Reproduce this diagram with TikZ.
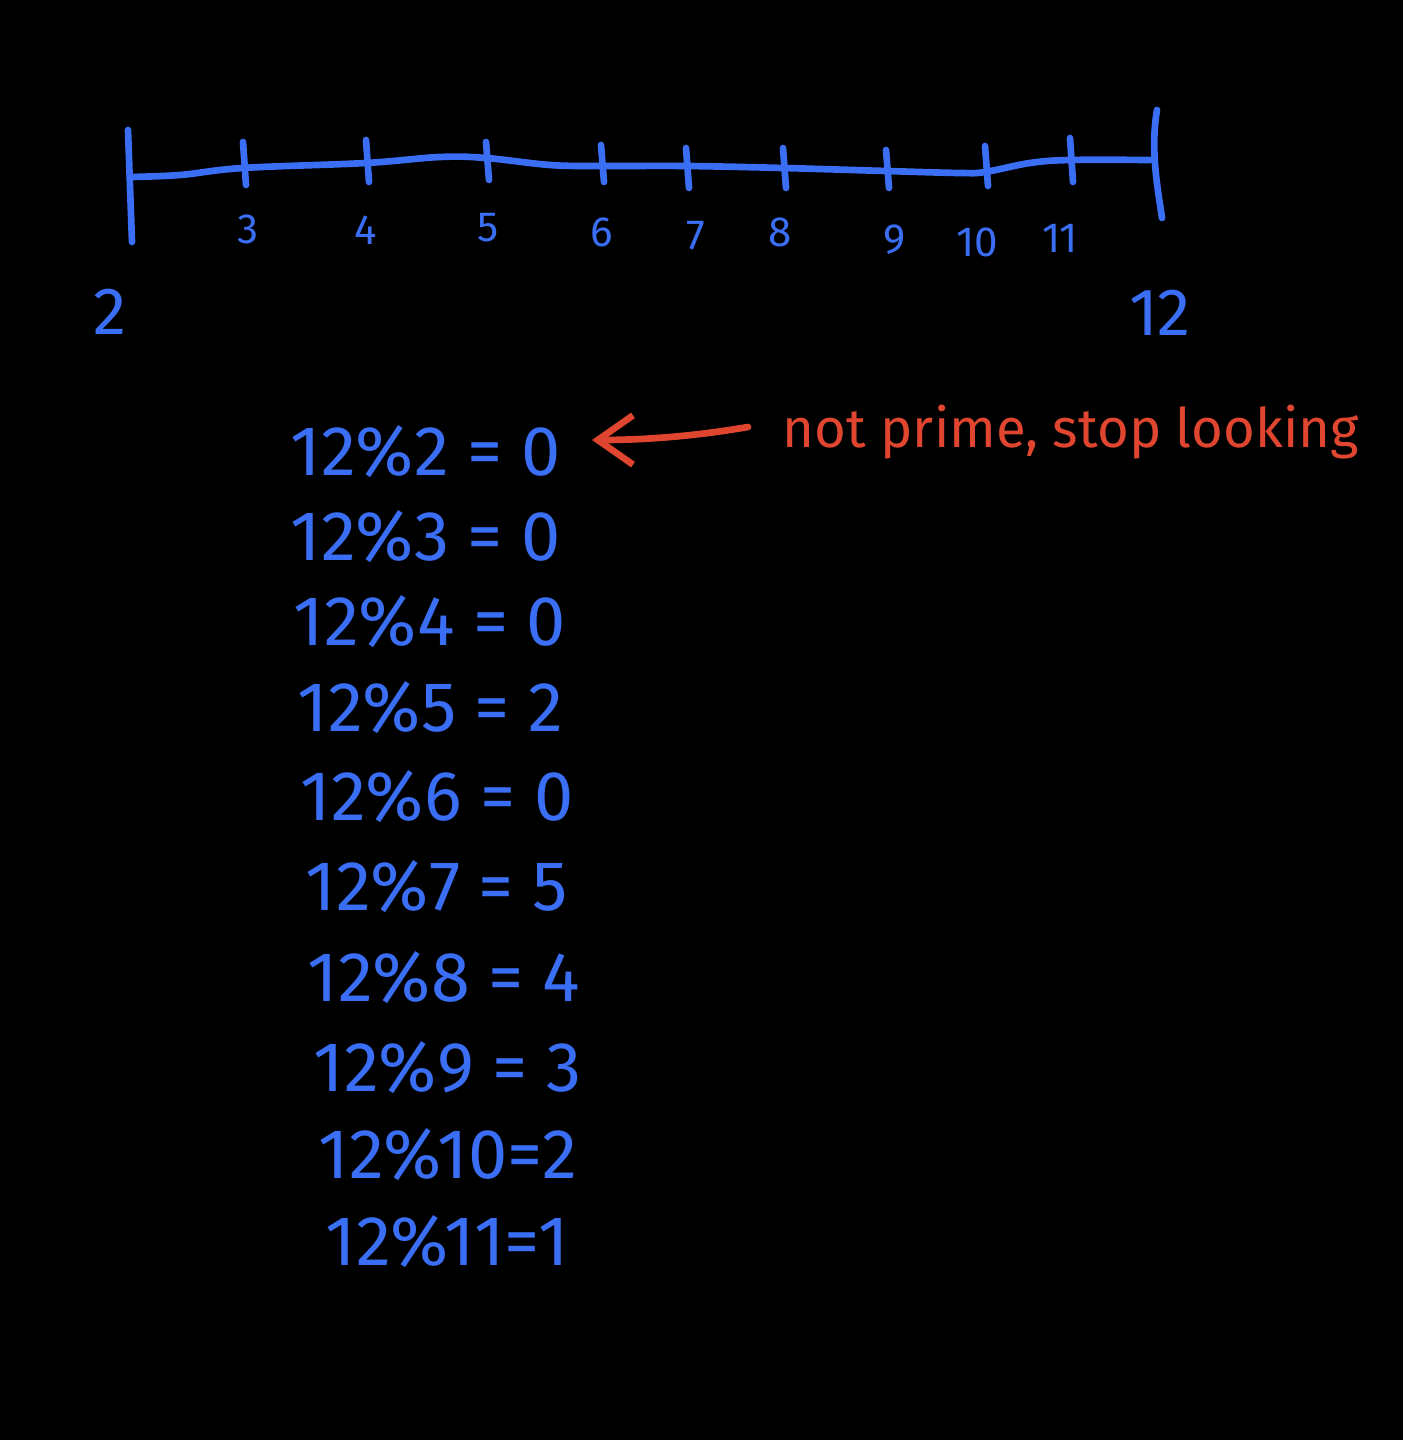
\documentclass[tikz,border=0pt]{standalone}
\usepackage{fontspec}
\setmainfont{Fira Sans}
\usetikzlibrary{arrows.meta}
\definecolor{penblue}{HTML}{3A6EF5}
\definecolor{penred}{HTML}{E0462F}
\begin{document}
\begin{tikzpicture}[x=0.01cm,y=-0.01cm,
  ink/.style={draw=penblue,line width=1.9pt,line cap=round,line join=round},
  redink/.style={draw=penred,line width=1.9pt,line cap=round,line join=round},
  ticklbl/.style={text=penblue,font=\fontsize{12}{14}\selectfont,inner sep=0pt},
  endlbl/.style={text=penblue,font=\fontsize{19}{22}\selectfont,inner sep=0pt},
  eqn/.style={text=penblue,font=\fontsize{20}{24}\selectfont,inner sep=0pt,anchor=west},
  note/.style={text=penred,font=\fontsize{15.5}{19}\selectfont,inner sep=0pt,anchor=west}]
\fill[black] (0,0) rectangle (1403,1440);
\useasboundingbox (0,0) rectangle (1403,1440);
% number line
\draw[ink] plot[smooth,tension=0.6] coordinates {(130,177) (180,175) (243,168) (366,163) (440,157) (486,158) (550,165) (601,166) (686,166) (783,168) (886,171) (960,173) (985,172) (1030,163) (1070,160) (1150,160)};
\coordinate (L1) at (128,130); \coordinate (L2) at (132,242);
\draw[ink] (L1) -- (L2);
\coordinate (R1) at (1157,110); \coordinate (R2) at (1162,218);
\draw[ink] (R1) .. controls (1150,150) and (1158,190) .. (R2);
\foreach \x/\a/\b/\n in {243/142/185/t3,366/140/182/t4,486/142/180/t5,601/145/182/t6,686/148/188/t7,783/148/188/t8,886/150/188/t9,985/146/186/t10,1070/138/182/t11}{
  \coordinate (\n a) at (\x,\a); \coordinate (\n b) at (\x+3,\b);
  \draw[ink] (\n a) -- (\n b);
}
\node[ticklbl] (l3) at (248,229) {3};
\node[ticklbl] (l4) at (366,230) {4};
\node[ticklbl] (l5) at (488,228) {5};
\node[ticklbl] (l6) at (602,232) {6};
\node[ticklbl] (l7) at (696,236) {7};
\node[ticklbl] (l8) at (780,232) {8};
\node[ticklbl] (l9) at (895,240) {9};
\node[ticklbl] (l10) at (977,242) {10};
\node[ticklbl] (l11) at (1060,238) {11};
\node[endlbl] (l2) at (110,312) {2};
\node[endlbl] (l12) at (1160,313) {12};
% equations
\node[eqn] (e2) at (290,452) {12\%2 = 0};
\node[eqn] (e3) at (290,537) {12\%3 = 0};
\node[eqn] (e4) at (293,622) {12\%4 = 0};
\node[eqn] (e5) at (297,708) {12\%5 = 2};
\node[eqn] (e6) at (300,797) {12\%6 = 0};
\node[eqn] (e7) at (305,887) {12\%7 = 5};
\node[eqn] (e8) at (307,978) {12\%8 = 4};
\node[eqn] (e9) at (313,1068) {12\%9 = 3};
\node[eqn] (e10) at (318,1155) {12\%10=2};
\node[eqn] (e11) at (325,1242) {12\%11=1};
% note
\node[note] (nt) at (782,432) {not prime, stop looking};
\coordinate (astart) at (748,427);
\coordinate (atip) at (592,440);
\draw[redink,-{Straight Barb[length=10pt,width=14pt]}] (astart) .. controls (690,437) and (640,440) .. (atip);
\end{tikzpicture}
\end{document}
